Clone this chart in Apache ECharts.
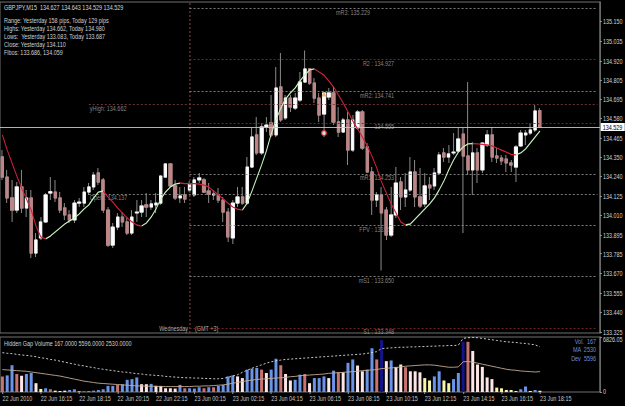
<!DOCTYPE html>
<html><head><meta charset="utf-8">
<script src="https://cdn.jsdelivr.net/npm/echarts@6/dist/echarts.min.js"></script>
<style>html,body{margin:0;padding:0;background:#000;width:625px;height:406px;overflow:hidden;}#c{height:406px;transform-origin:0 0;}</style>
</head><body><div id="c"></div>
<script>
// ---------- data ----------
const opens = [134.354,134.236,134.113,134.042,134.178,134.054,134.113,133.789,133.878,133.972,
134.142,134.148,134.113,134.054,134.013,133.984,134.083,134.083,134.148,134.178,
134.260,134.219,134.042,133.836,133.942,134.001,133.972,133.907,134.025,134.030,
134.072,134.060,134.072,134.083,134.236,134.313,134.184,134.113,134.131,134.160,
134.131,134.219,134.219,134.154,134.131,134.131,134.101,134.030,133.878,134.083,
134.119,134.083,134.295,134.484,134.378,134.531,134.554,134.484,134.766,134.584,
134.701,134.642,134.689,134.795,134.872,134.789,134.701,134.607,134.707,134.731,
134.560,134.501,134.572,134.395,134.525,134.619,134.413,134.266,134.101,134.131,
134.042,133.895,134.013,134.207,134.119,134.160,134.266,134.119,134.078,134.189,
134.184,134.260,134.378,134.354,134.378,134.389,134.489,134.360,134.278,134.378,
134.278,134.425,134.484,134.360,134.348,134.342,134.319,134.295,134.419,134.484,
134.495,134.513,134.627];
const closes = [134.236,134.113,134.042,134.178,134.054,134.113,133.789,133.866,133.972,134.131,
134.150,134.113,134.042,134.013,133.984,134.083,134.089,134.148,134.178,134.248,
134.207,134.042,133.836,133.942,134.001,133.972,133.907,134.001,134.030,134.066,
134.060,134.078,134.083,134.242,134.313,134.184,134.113,134.125,134.107,134.195,
134.219,134.231,134.148,134.136,134.136,134.101,134.030,133.884,134.083,134.119,
134.083,134.295,134.472,134.378,134.531,134.542,134.484,134.760,134.572,134.701,
134.648,134.701,134.795,134.872,134.789,134.701,134.601,134.731,134.731,134.560,
134.501,134.572,134.395,134.572,134.619,134.407,134.266,134.101,134.131,134.025,
133.895,134.013,134.201,134.119,134.160,134.266,134.119,134.066,134.184,134.172,
134.260,134.366,134.354,134.372,134.383,134.460,134.360,134.278,134.378,134.278,
134.436,134.484,134.354,134.348,134.331,134.319,134.307,134.413,134.495,134.495,
134.513,134.625,134.529];
const highs = [134.395,134.278,134.219,134.207,134.278,134.160,134.160,133.907,134.001,134.142,
134.236,134.219,134.148,134.083,134.042,134.101,134.113,134.178,134.201,134.266,
134.289,134.231,134.060,133.966,134.025,134.030,134.001,134.042,134.101,134.101,
134.142,134.101,134.142,134.248,134.319,134.319,134.219,134.178,134.178,134.213,
134.236,134.260,134.231,134.201,134.160,134.172,134.119,134.054,134.101,134.178,
134.178,134.354,134.531,134.589,134.554,134.589,134.719,134.883,134.966,134.719,
134.719,134.731,134.854,134.980,134.878,134.819,134.731,134.736,134.760,134.766,
134.648,134.584,134.619,134.601,134.631,134.631,134.436,134.295,134.148,134.178,
134.060,134.178,134.295,134.236,134.260,134.354,134.336,134.289,134.260,134.236,
134.289,134.383,134.407,134.425,134.495,134.525,134.525,134.795,134.442,134.407,
134.442,134.513,134.531,134.407,134.366,134.366,134.336,134.425,134.513,134.513,
134.554,134.660,134.643];
const lows = [134.219,134.083,133.972,134.025,134.025,134.001,133.760,133.766,133.866,133.966,
134.101,134.089,134.025,133.984,133.966,133.966,134.060,134.060,134.131,134.160,
134.189,134.025,133.825,133.819,133.925,133.942,133.895,133.895,133.972,134.001,
134.001,134.042,134.025,134.072,134.231,134.178,134.101,134.083,134.083,134.148,
134.119,134.201,134.142,134.083,134.101,134.083,133.972,133.854,133.842,134.060,
134.072,134.072,134.289,134.366,134.366,134.501,134.472,134.472,134.560,134.572,
134.619,134.631,134.678,134.789,134.778,134.672,134.560,134.472,134.689,134.542,
134.472,134.495,134.307,134.383,134.513,134.395,134.260,134.013,134.060,133.687,
133.866,133.884,133.995,134.042,134.060,134.148,134.060,134.054,134.060,134.101,
134.160,134.248,134.325,134.319,134.366,134.378,133.907,134.248,134.131,134.201,
134.260,134.413,134.325,134.319,134.307,134.266,134.266,134.207,134.413,134.425,
134.484,134.501,134.529];
const maLine = [134.484,134.395,134.319,134.242,134.172,134.107,134.042,133.948,133.884,133.872,
133.889,133.913,133.936,133.960,133.978,133.995,134.019,134.048,134.072,134.113,
134.148,134.154,134.119,134.089,134.054,134.025,133.995,133.972,133.954,133.948,
133.966,134.001,134.048,134.107,134.148,134.178,134.195,134.201,134.198,134.198,
134.197,134.195,134.189,134.178,134.154,134.131,134.107,134.083,134.060,134.048,
134.042,134.083,134.154,134.231,134.307,134.389,134.489,134.572,134.642,134.695,
134.731,134.760,134.801,134.836,134.866,134.872,134.854,134.836,134.801,134.766,
134.719,134.672,134.619,134.566,134.519,134.472,134.419,134.360,134.289,134.207,
134.142,134.078,134.025,133.972,133.954,133.960,133.989,134.019,134.048,134.078,
134.113,134.160,134.213,134.278,134.336,134.383,134.413,134.431,134.433,134.431,
134.428,134.425,134.419,134.407,134.395,134.383,134.369,134.366,134.378,134.401,
134.436,134.472,134.507];
const volumes = [1937,2063,3326,2231,2021,2231,2358,1095,379,463,
337,168,126,168,253,337,80,84,126,168,
253,337,758,758,884,968,1516,1600,1810,968,
968,1010,758,758,463,463,421,884,463,463,
421,589,463,589,589,758,884,1937,2063,1937,
1726,2779,2905,2989,2779,2358,2779,4126,3326,2231,
1431,1516,2147,2231,1095,1726,1726,1937,1726,2652,
2442,2442,3621,4042,3284,2568,2779,5431,4042,6441,
3831,3915,3115,3410,3073,2568,2568,2442,1726,1431,
1937,2568,1431,1095,1600,2358,6231,6231,5094,3410,
3115,1810,1600,547,463,253,253,126,337,674,
126,253,167];
const volumeKinds = ['r','b','b','r','w','b','b','w','y','b',
'r','y','y','w','b','b','y','r','b','b',
'b','b','b','b','r','b','b','b','b','w',
'w','b','w','w','w','w','w','b','r','b',
'b','b','r','b','r','b','b','b','b','w',
'w','b','b','b','r','w','b','b','r','w',
'w','b','b','r','w','b','b','b','w','b',
'r','w','b','b','w','w','b','b','r','n',
'w','b','w','w','r','w','w','w','y','y',
'b','b','y','y','b','b','n','r','w','w',
'w','w','w','y','y','y','y','y','b','b',
'w','b','w'];
const volumeMA = [2779,2737,2694,2652,2610,2568,2484,2400,2316,2231,
2147,2063,1979,1852,1726,1600,1474,1347,1263,1179,
1095,1053,1010,968,926,884,842,800,758,758,
716,716,716,674,674,674,674,674,674,674,
716,716,758,758,800,842,884,968,1095,1179,
1305,1389,1474,1558,1600,1642,1684,1726,1768,1810,
1895,1937,2021,2063,2105,2147,2189,2231,2316,2358,
2400,2442,2484,2526,2568,2652,2694,2737,2779,2905,
2947,2989,3031,3115,3200,3242,3284,3326,3368,3368,
3326,3242,3158,3073,3073,3115,3747,3789,3705,3579,
3452,3326,3200,3073,2947,2821,2737,2694,2610,2568,
2526,2484,2530];
const volumeUpper = [4884,4800,4757,4673,4589,4547,4463,4378,4252,4168,
4042,3957,3831,3705,3579,3452,3326,3242,3115,3031,
2905,2821,2737,2652,2568,2484,2442,2358,2273,2231,
2147,2105,2063,2021,1937,1895,1852,1810,1768,1768,
1726,1726,1684,1684,1642,1642,1684,1810,1979,2147,
2442,2694,2947,3158,3368,3579,3747,3873,3957,4042,
4084,4126,4168,4210,4252,4294,4336,4378,4420,4463,
4505,4547,4589,4631,4673,4715,4800,4884,5010,5389,
5431,5473,5515,5557,5557,5599,5599,5641,5641,5684,
5684,5726,5726,5768,5768,5810,6652,6736,6778,6736,
6652,6568,6483,6399,6315,6231,6189,6147,6062,6020,
5936,5852,5596];
const priceTicks = [135.150,135.035,134.920,134.805,134.695,134.580,134.465,134.350,134.240,134.125,134.010,133.895,133.785,133.670,133.555,133.440,133.325];
const timeLabels = ['22 Jun 2010','22 Jun 16:15','22 Jun 18:15','22 Jun 20:15','22 Jun 22:15','23 Jun 00:15','23 Jun 02:15','23 Jun 04:15','23 Jun 06:15','23 Jun 08:15','23 Jun 10:15','23 Jun 12:15','23 Jun 14:15','23 Jun 16:15','23 Jun 18:15'];
const pivotNames = ['mR3: 135.229','R2 : 134.927','mR2: 134.741','134.555','mR1: 134.253','FPV : 133.952','mS1 : 133.650','S1 : 133.348'];
const pivotValues = [135.229,134.927,134.741,134.555,134.253,133.952,133.650,133.348];
const pivotKinds = ['m','r','m','r','m','m','m','r'];
const prevDayNames = ['yHigh: 134.662','Open : 134.137'];
const prevDayValues = [134.662,134.137];
const lastPrice = 134.529;
const tradeMarks = [134.495, 134.725];
const headerLine = 'GBPJPY,M15  134.627 134.643 134.529 134.529';
const infoLines = ['Range: Yesterday 158 pips, Today 129 pips','Highs: Yesterday 134.662, Today 134.980','Lows:  Yesterday 133.083, Today 133.687','Close: Yesterday 134.110','Fibos: 133.686, 134.059'];
const volumeTitle = 'Hidden Gap Volume 167.0000 5596.0000 2530.0000';
const volumeInfo = ['Vol.  167','MA  2530','Dev  5596'];
const volumeMax = 6826.05;
const dayStartBar = 39;
const slotCount = 125;

// ---------- chart ----------
// the reference picture is squeezed horizontally; draw wider and squeeze the same way
const K = 0.78;
const W = 625 / K;
const sx = (v) => v / K;
const el = document.getElementById('c');
el.style.width = W + 'px';
el.style.transform = 'scaleX(' + K + ')';

const FONT = "'Liberation Sans',Arial,sans-serif";
const cats = Array.from({length: slotCount}, (_, i) => String(i));
const candleFull = opens.map((o, i) => [o, closes[i], lows[i], highs[i]]);
const candleBody = opens.map((o, i) => [o, closes[i], Math.min(o, closes[i]), Math.max(o, closes[i])]);
const maUp = maLine.map(() => null), maDown = maLine.map(() => null);
for (let i = 0; i < maLine.length - 1; i++) {
  const t = maLine[i + 1] > maLine[i] ? maUp : maDown;
  t[i] = maLine[i]; t[i + 1] = maLine[i + 1];
}
const volColors = {b:'#6a94e8', r:'#c87272', w:'#ffe6e6', y:'#f8f4a8', n:'#141488'};
const lastIdx = opens.length - 1;
const VW = sx(1);

const pivotLines = pivotValues.map((v, i) => [
  {coord:[dayStartBar, v], lineStyle:{color: pivotKinds[i] === 'r' ? '#7a2a2a' : '#8c8c8c', type:[sx(2),sx(2)], width:1}},
  {coord:[slotCount - 1, v]}
]);
const prevLines = prevDayValues.map((v, i) => [
  {coord:[18, v], lineStyle:{color: i === 0 ? '#7a3a3a' : '#8c8c8c', type:[sx(2),sx(2)], width:1}},
  {coord:[slotCount - 1, v]}
]);

const txt = (x, y, text, color, align) => ({type:'text', x: sx(x), y, silent:true,
  style:{text, fill: color, fontSize: 7, fontFamily: FONT, textAlign: align || 'left', textVerticalAlign:'middle'}});

const option = {
  backgroundColor: '#000',
  animation: false,
  grid: [
    {left:0, top:2, width:sx(600), height:331, show:true, borderColor:'#808080', borderWidth:1, backgroundColor:'transparent'},
    {left:0, top:337, width:sx(600), height:55, show:true, borderColor:'#808080', borderWidth:1, backgroundColor:'transparent'}
  ],
  xAxis: [
    {type:'category', gridIndex:0, data:cats, boundaryGap:true, axisLine:{show:false}, axisTick:{show:false}, axisLabel:{show:false}, splitLine:{show:false}},
    {type:'category', gridIndex:1, data:cats, boundaryGap:true, axisLine:{show:false},
      axisTick:{show:true, alignWithLabel:true, length:2, lineStyle:{color:'#a0a0a0', width:VW}, interval:(i) => i % 8 === 0 && i <= lastIdx},
      axisLabel:{show:true, interval:(i) => i % 8 === 0 && i <= lastIdx, formatter:(v, i) => timeLabels[i / 8] || '',
        align:'left', color:'#c8c8c8', fontSize:7, fontFamily:FONT, margin:3},
      splitLine:{show:false}}
  ],
  yAxis: [
    {type:'value', gridIndex:0, position:'right', min:133.3188, max:135.2658, scale:true,
      axisLine:{show:true, lineStyle:{color:'#808080', width:VW}},
      axisTick:{show:true, length:sx(2), customValues: priceTicks, lineStyle:{color:'#a0a0a0'}},
      axisLabel:{show:true, customValues: priceTicks, formatter:(v) => v.toFixed(3), color:'#d0d0d0', fontSize:7, fontFamily:FONT, margin:sx(3)},
      splitLine:{show:false}},
    {type:'value', gridIndex:1, position:'right', min:0, max:volumeMax, interval:volumeMax,
      axisLine:{show:true, lineStyle:{color:'#808080', width:VW}},
      axisTick:{show:true, length:sx(2), lineStyle:{color:'#a0a0a0'}},
      axisLabel:{show:true, showMinLabel:true, showMaxLabel:true,
        formatter:(v) => v === 0 ? '{b|0}' : '{t|' + v.toFixed(2) + '}',
        rich:{t:{padding:[5,0,0,0], color:'#d0d0d0', fontSize:7, fontFamily:FONT}, b:{padding:[0,0,2,0], color:'#d0d0d0', fontSize:7, fontFamily:FONT}},
        color:'#d0d0d0', fontSize:7, fontFamily:FONT, margin:sx(3)},
      splitLine:{show:false}}
  ],
  series: [
    {name:'levels', type:'line', xAxisIndex:0, yAxisIndex:0, data:[], z:1, silent:true,
      markLine:{silent:true, symbol:['none','none'], label:{show:false}, animation:false,
        data:[
          {xAxis: dayStartBar, lineStyle:{color:'#8a4848', type:[2,2], width:VW}},
          ...pivotLines, ...prevLines,
          {yAxis: lastPrice, lineStyle:{color:'#c8c8c8', type:'solid', width:1},
            label:{show:true, position:'end', distance:1, formatter: lastPrice.toFixed(3), backgroundColor:'#ffffff', color:'#000', padding:[1,sx(3),0,sx(2)], fontSize:7, fontFamily:FONT}}
        ]}},
    {name:'levelText', type:'scatter', xAxisIndex:0, yAxisIndex:0, symbolSize:0, z:2, silent:true,
      data: pivotValues.map((v, i) => ({value:[i === 0 ? 76 : 81, v],
        label:{show:true, position:'left', distance:0, offset:[sx(3), 3.5], formatter: pivotNames[i], color:'#a8a8a8', fontSize:7, fontFamily:FONT}}))
        .concat(prevDayValues.map((v, i) => ({value:[18, v],
        label:{show:true, position:'right', distance:0, offset:[sx(1), 3.5], formatter: prevDayNames[i], color:'#a8a8a8', fontSize:7, fontFamily:FONT}})))},
    {name:'wick', type:'candlestick', xAxisIndex:0, yAxisIndex:0, data:candleFull, barWidth:sx(3), z:3, silent:true,
      itemStyle:{color:'transparent', color0:'transparent', borderColor:'#8a8a8a', borderColor0:'#8a8a8a', borderWidth:VW}},
    {name:'body', type:'candlestick', xAxisIndex:0, yAxisIndex:0, data:candleBody, barWidth:sx(3), z:4, silent:true,
      itemStyle:{color:'#ffffff', color0:'#bf8686', borderColor:'#ffffff', borderColor0:'#bf8686', borderWidth:1}},
    {name:'maUp', type:'line', xAxisIndex:0, yAxisIndex:0, data:maUp, symbol:'none', z:5, silent:true,
      lineStyle:{color:'#c8f5c0', width:1.3}},
    {name:'maDown', type:'line', xAxisIndex:0, yAxisIndex:0, data:maDown, symbol:'none', z:5, silent:true,
      lineStyle:{color:'#d0203c', width:1.3}},
    {name:'trades', type:'scatter', xAxisIndex:0, yAxisIndex:0, z:6, silent:true,
      data:[
        {value:[67, tradeMarks[0]], symbol:'circle', symbolSize:[sx(5),5], itemStyle:{color:'#ffffff', borderColor:'#e02828', borderWidth:1.5}},
        {value:[67, tradeMarks[1]], symbol:'triangle', symbolSize:[sx(5),5], itemStyle:{color:'#f0a030'}}
      ]},
    {name:'volume', type:'bar', xAxisIndex:1, yAxisIndex:1, barWidth:sx(3), z:2, silent:true,
      data: volumes.map((v, i) => ({value:v, itemStyle:{color: volColors[volumeKinds[i]]}}))},
    {name:'volMA', type:'line', xAxisIndex:1, yAxisIndex:1, data:volumeMA, symbol:'none', z:3, silent:true,
      lineStyle:{color:'#c8ab90', width:1}},
    {name:'volUpper', type:'line', xAxisIndex:1, yAxisIndex:1, data:volumeUpper, symbol:'none', z:3, silent:true,
      lineStyle:{color:'#e0e0e0', width:1, type:[sx(2),sx(2)]}}
  ],
  graphic: [
    txt(4, 7, headerLine, '#d8d8d8'),
    ...infoLines.map((t, i) => txt(4, 20 + i * 8, t, '#d0d0d0')),
    txt(188, 328, 'Wednesday', '#b0b0b0', 'right'),
    txt(195, 328, '(GMT +3)', '#b0b0b0'),
    txt(4, 343, volumeTitle, '#d0d0d0'),
    ...volumeInfo.map((t, i) => txt(596, 341 + i * 8.5, t, '#7090d8', 'right'))
  ]
};
const chart = echarts.init(el, null, {renderer:'svg', width:W, height:406});
chart.setOption(option);
</script>
</body></html>
